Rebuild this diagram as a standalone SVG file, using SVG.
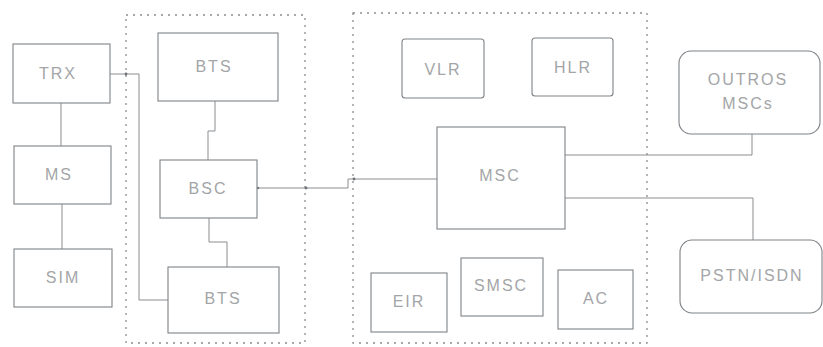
<svg xmlns="http://www.w3.org/2000/svg" width="823" height="347" viewBox="0 0 823 347">
<style>
.box{fill:none;stroke:#7f8387;stroke-width:1.1}
.grp{fill:none;stroke:#8a8d90;stroke-width:1.3;stroke-dasharray:2 5}
.ln{fill:none;stroke:#8a8d90;stroke-width:1}
.dot{fill:#6f7377}
text{font-family:"Liberation Sans",Arial,sans-serif;font-size:16px;fill:#a3a5a7;text-anchor:middle;letter-spacing:2px}
</style>
<rect width="823" height="347" fill="#ffffff"/>
<g id="groups">
<rect class="grp" x="126" y="15" width="179" height="328"/>
<rect class="grp" x="353" y="13" width="294" height="330"/>
</g>
<g id="connectors">
<path class="ln" d="M61 103V146"/>
<path class="ln" d="M62 204V249"/>
<path class="ln" d="M110 74H139V300H168"/>
<path class="ln" d="M215 101V131H208V160"/>
<path class="ln" d="M209 218V242H227V267"/>
<path class="ln" d="M257 188H348V179H437"/>
<path class="ln" d="M565 155H752V134"/>
<path class="ln" d="M565 198H753V240"/>
<circle class="dot" cx="126" cy="74" r="1.4"/>
<circle class="dot" cx="306" cy="188" r="1.4"/>
<circle class="dot" cx="354" cy="179" r="1.4"/>
<circle class="dot" cx="258" cy="188" r="1.2"/>
</g>
<g id="TRX"><rect class="box" x="13" y="44" width="97" height="59"/><text x="58" y="79">TRX</text></g>
<g id="MS"><rect class="box" x="14" y="146" width="97" height="58"/><text x="59" y="180">MS</text></g>
<g id="SIM"><rect class="box" x="14" y="249" width="98" height="58"/><text x="63" y="283">SIM</text></g>
<g id="BTS1"><rect class="box" x="158" y="33" width="120" height="68"/><text x="214" y="72">BTS</text></g>
<g id="BSC"><rect class="box" x="160" y="160" width="97" height="58"/><text x="208" y="194">BSC</text></g>
<g id="BTS2"><rect class="box" x="168" y="267" width="111" height="66"/><text x="223" y="304">BTS</text></g>
<g id="VLR"><rect class="box" x="402" y="39" width="82" height="59" rx="3"/><text x="443" y="75">VLR</text></g>
<g id="HLR"><rect class="box" x="532" y="38" width="81" height="58" rx="3"/><text x="573" y="73">HLR</text></g>
<g id="MSC"><rect class="box" x="437" y="127" width="128" height="102"/><text x="500" y="181">MSC</text></g>
<g id="EIR"><rect class="box" x="371" y="273" width="76" height="59"/><text x="409" y="307">EIR</text></g>
<g id="SMSC"><rect class="box" x="461" y="258" width="82" height="58"/><text x="501" y="291">SMSC</text></g>
<g id="AC"><rect class="box" x="558" y="270" width="75" height="59"/><text x="596" y="304">AC</text></g>
<g id="OUTROS"><rect class="box" x="679" y="51" width="141" height="83" rx="12"/><text x="748" y="85">OUTROS</text><text x="748" y="109">MSCs</text></g>
<g id="PSTN"><rect class="box" x="680" y="240" width="142" height="73" rx="12"/><text x="752" y="281">PSTN/ISDN</text></g>
</svg>
